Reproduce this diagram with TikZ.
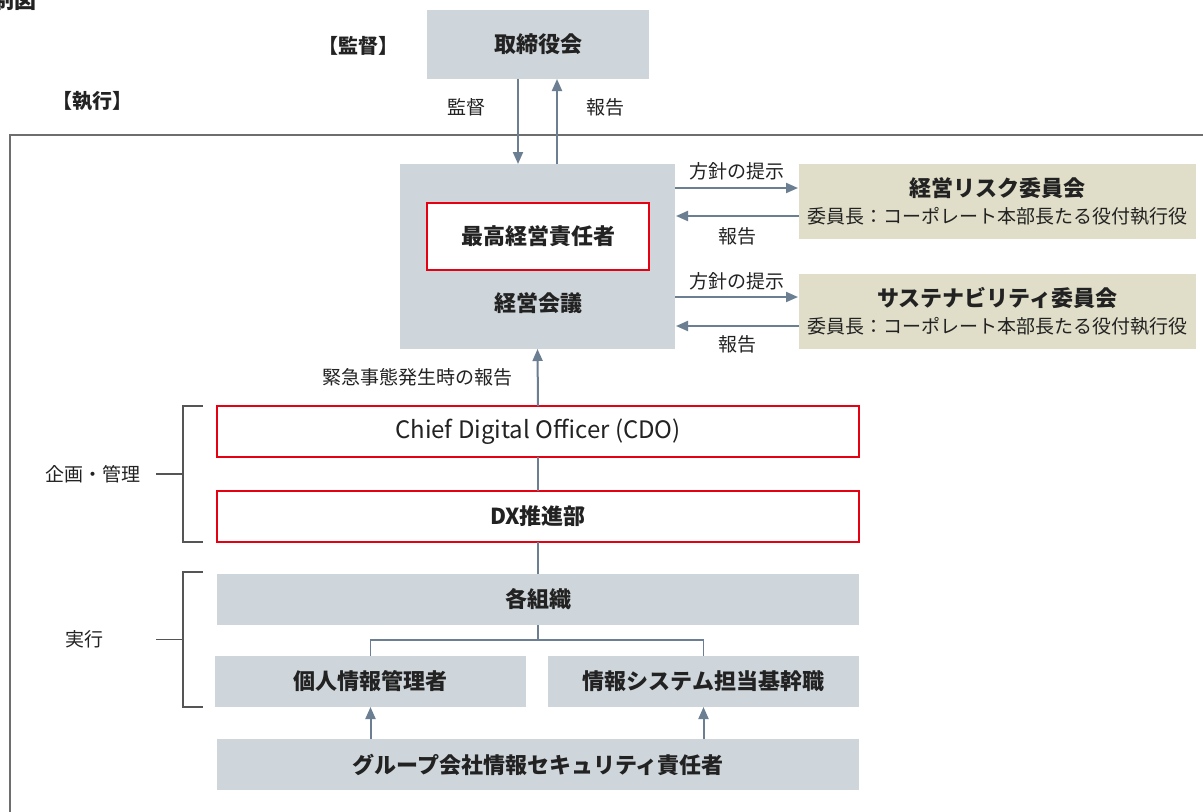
\documentclass[tikz,border=0pt]{standalone}
\usepackage{fontspec}
\setmainfont{Noto Sans CJK JP}
\usetikzlibrary{arrows.meta,calc}
\definecolor{boxgray}{HTML}{CFD6DB}
\definecolor{commc}{HTML}{E0DEC8}
\definecolor{arrowc}{HTML}{6B7E92}
\definecolor{redc}{HTML}{E50012}
\definecolor{brkc}{HTML}{555555}
\definecolor{framec}{HTML}{6E6E6E}
\definecolor{txt}{HTML}{222222}
\begin{document}
\begin{tikzpicture}[x=0.75pt,y=-0.75pt,
  sz/.style 2 args={minimum width=#1*0.75pt, minimum height=#2*0.75pt},
  box/.style={fill=boxgray, inner sep=0pt, outer sep=0pt, text=txt,
    font=\bfseries\fontsize{16.5}{20}\selectfont},
  redbox/.style={draw=redc, line width=1.5pt, fill=white, inner sep=0pt, outer sep=0pt,
    text=txt, font=\bfseries\fontsize{16.5}{20}\selectfont},
  commbox/.style={fill=commc, inner sep=0pt, outer sep=0pt, text=txt, align=center,
    font=\fontsize{14.25}{20}\selectfont},
  lbl/.style={text=txt, font=\fontsize{14.25}{17}\selectfont, inner sep=0pt},
  head/.style={text=txt, font=\bfseries\fontsize{15}{18}\selectfont, inner sep=0pt},
  arr/.style={draw=arrowc, line width=1.5pt, -{Triangle[length=9pt,width=7.5pt]}},
  conn/.style={draw=arrowc, line width=1.3pt},
  brkt/.style={draw=brkc, line width=1.2pt},
  frameline/.style={draw=framec, line width=1.5pt}]
\useasboundingbox (0,0) rectangle (1203,811);
\clip (0,0) rectangle (1203,811);
\fill[white] (0,0) rectangle (1203,811);

% title (cut off as in the reference)
\node[anchor=south east, text=txt, font=\bfseries\fontsize{16.5}{20}\selectfont, inner sep=0pt] (title) at (37,11) {体制図};

% outer frame
\draw[frameline] (10,830) -- (10,135) -- (1220,135);

% headings
\node[head] (kantoku) at (358,46) {【監督】};
\node[head] (shikko) at (92,101) {【執行】};

% board
\node[box, sz={222}{69}] (board) at (538,44.5) {取締役会};

% management meeting
\node[box, sz={275}{185}] (mgmt) at (537.5,256.5) {};
\node[redbox, sz={222}{67}] (ceo) at (538,236.5) {最高経営責任者};
\node[text=txt, font=\bfseries\fontsize{16.5}{20}\selectfont, inner sep=0pt] (mgmtlbl) at (538,303) {経営会議};

% committees
\node[commbox, sz={397}{75}] (risk) at (997.5,201.5)
  {{\bfseries\fontsize{16.5}{20}\selectfont 経営リスク委員会}\\委員長：コーポレート本部長たる役付執行役};
\node[commbox, sz={397}{75}] (sus) at (997.5,311.5)
  {{\bfseries\fontsize{16.5}{20}\selectfont サステナビリティ委員会}\\委員長：コーポレート本部長たる役付執行役};

% board <-> mgmt arrows
\coordinate (dnx) at (518,0);
\coordinate (upx) at (557,0);
\draw[arr] (board.south -| dnx) -- (mgmt.north -| dnx)
  node[lbl, midway, xshift=-39pt, yshift=10.5pt] {監督};
\draw[arr] (mgmt.north -| upx) -- (board.south -| upx)
  node[lbl, midway, xshift=36pt, yshift=10.5pt] {報告};

% mgmt <-> committees
\draw[arr] ($(risk.west -| mgmt.east)+(0,-13.5)$) -- ($(risk.west)+(-1,-13.5)$)
  node[lbl, midway, yshift=12.5pt] {方針の提示};
\draw[arr] ($(risk.west)+(0,14.5)$) -- ($(risk.west -| mgmt.east)+(1,14.5)$)
  node[lbl, midway, yshift=-15pt] {報告};
\draw[arr] ($(sus.west -| mgmt.east)+(0,-14.5)$) -- ($(sus.west)+(-1,-14.5)$)
  node[lbl, midway, yshift=12pt] {方針の提示};
\draw[arr] ($(sus.west)+(0,14.5)$) -- ($(sus.west -| mgmt.east)+(1,14.5)$)
  node[lbl, midway, yshift=-13.5pt] {報告};

% CDO / DX
\node[redbox, sz={642}{51}, font=\fontsize{18}{21}\selectfont] (cdo) at (538,431.5) {Chief Digital Officer (CDO)};
\node[redbox, sz={642}{51}] (dx) at (538,516.5) {DX推進部};
\draw[arr] (cdo.north) -- (mgmt.south)
  node[lbl, midway, anchor=east, xshift=-18pt] {緊急事態発生時の報告};
\draw[conn] (cdo.south) -- (dx.north);

% execution
\node[box, sz={642}{51}] (org) at (538,599.5) {各組織};
\draw[conn] (dx.south) -- (org.north);
\node[box, sz={311}{51}] (pim) at (370.5,681.5) {個人情報管理者};
\node[box, sz={311}{51}] (isys) at (703.5,681.5) {情報システム担当基幹職};
\node[box, sz={642}{51}] (grp) at (538,764.5) {グループ会社情報セキュリティ責任者};
\draw[conn] (org.south) -- ++(0,15) coordinate (mid);
\draw[conn] (pim.north) |- (mid) -| (isys.north);
\draw[arr] (grp.north -| pim.south) -- (pim.south);
\draw[arr] (grp.north -| isys.south) -- (isys.south);

% brackets
\node[lbl] (kikaku) at (93,474) {企画・管理};
\node[lbl] (jikko) at (84,639) {実行};
\draw[brkt] ($(cdo.north west)+(-14,0)$) -- ++(-20,0) |- ($(dx.south west)+(-14,0)$);
\draw[brkt] ($(cdo.north west)!0.5!(dx.south west)+(-34,0)$) -- ++(-27,0);
\draw[brkt] ($(org.north west)+(-14,-2)$) -- ++(-20,0) |- ($(pim.south -| org.west)+(-14,0)$);
\draw[brkt] ($(org.north west)!0.5!(pim.south -| org.west)+(-34,-1)$) -- ++(-27,0);
\end{tikzpicture}
\end{document}
